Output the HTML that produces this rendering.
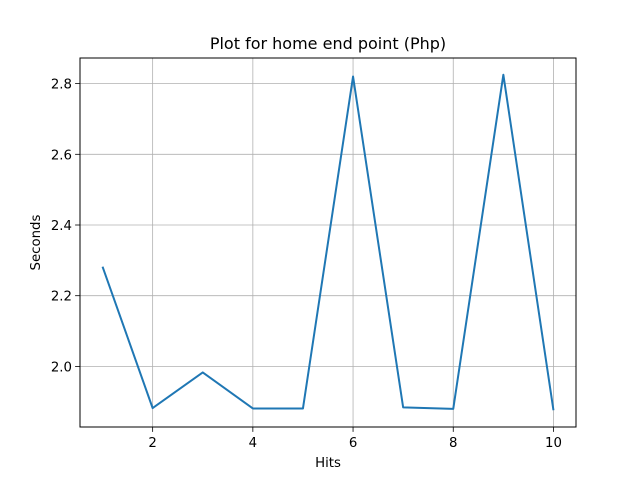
<!DOCTYPE html>
<html><head><meta charset="utf-8"><style>body{margin:0;background:#fff}svg{display:block;font-family:"DejaVu Sans","Liberation Sans",sans-serif}</style></head>
<body>
<svg id="chart" width="640" height="480"></svg>
<script>
const hits=[1,2,3,4,5,6,7,8,9,10];
const seconds=[2.282,1.882,1.983,1.881,1.881,2.820,1.884,1.880,2.825,1.876];
const xTicks=[2,4,6,8,10];
const yTicks=[2.0,2.2,2.4,2.6,2.8];
const svg=document.getElementById('chart');
const NS='http://www.w3.org/2000/svg';
const L=80,R=576,T=58,B=427;
const xmin=Math.min(...hits),xmax=Math.max(...hits),xm=(xmax-xmin)*0.05;
const ymin=Math.min(...seconds),ymax=Math.max(...seconds),ym=(ymax-ymin)*0.05;
const sx=v=>L+(v-(xmin-xm))/((xmax+xm)-(xmin-xm))*(R-L);
const sy=v=>B-(v-(ymin-ym))/((ymax+ym)-(ymin-ym))*(B-T);
function mk(tag,a,txt){const e=document.createElementNS(NS,tag);for(const k in a)e.setAttribute(k,a[k]);if(txt!==undefined)e.textContent=txt;svg.appendChild(e);return e;}
xTicks.forEach(t=>{const x=sx(t);
let g=mk('line',{x1:x,x2:x,y1:T,y2:B,stroke:'#b0b0b0','stroke-width':0.8});


mk('line',{x1:x,x2:x,y1:B,y2:B+4.9,stroke:'#000','stroke-width':0.8});
let l=mk('text',{x:x,y:B+20,'font-size':13.3,'text-anchor':'middle'},String(t));

});
yTicks.forEach(t=>{const y=sy(t);
let g=mk('line',{x1:L,x2:R,y1:y,y2:y,stroke:'#b0b0b0','stroke-width':0.8});


mk('line',{x1:L-4.9,x2:L,y1:y,y2:y,stroke:'#000','stroke-width':0.8});
let l=mk('text',{x:L-8,y:y+5,'font-size':13.3,'text-anchor':'end'},t.toFixed(1));

});
const p=mk('polyline',{points:hits.map((h,i)=>sx(h)+','+sy(seconds[i])).join(' '),fill:'none',stroke:'#1f77b4','stroke-width':2,'stroke-linejoin':'round'});


const f=mk('rect',{x:L,y:T,width:R-L,height:B-T,fill:'none',stroke:'#000','stroke-width':1});


const ti=mk('text',{x:(L+R)/2,y:49,'font-size':16,'text-anchor':'middle'},'Plot for home end point (Php)');


const xl=mk('text',{x:(L+R)/2,y:467,'font-size':13.3,'text-anchor':'middle'},'Hits');


const yl=mk('text',{x:40,y:(T+B)/2,'font-size':13.3,'text-anchor':'middle',transform:'rotate(-90 40 '+((T+B)/2)+')'},'Seconds');


</script>
</body></html>
